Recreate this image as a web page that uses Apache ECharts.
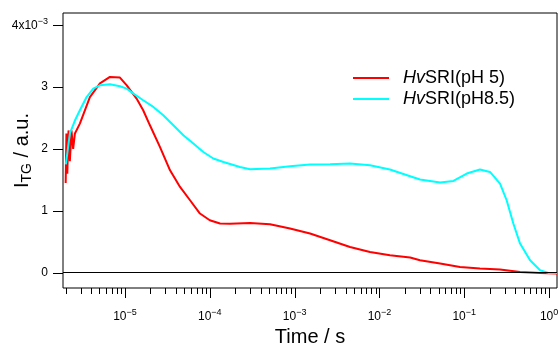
<!DOCTYPE html>
<html><head><meta charset="utf-8">
<script src="https://cdn.jsdelivr.net/npm/echarts@6/dist/echarts.min.js"></script>
<style>html,body{margin:0;padding:0;background:#fff}#c{width:558px;height:347px}</style>
</head><body><div id="c"></div>
<script>
// ---- data (time in s, signal in units of 1e-3 a.u.) ----
const redTime = [2.0e-6, 2.04e-6, 2.09e-6, 2.16e-6, 2.24e-6, 2.34e-6, 2.45e-6, 2.57e-6, 2.94e-6, 3.86e-6, 5.07e-6, 6.65e-6, 8.73e-6, 1.05e-5, 1.37e-5, 1.64e-5, 1.97e-5, 2.59e-5, 3.40e-5, 4.46e-5, 5.85e-5, 7.66e-5, 1.0e-4, 1.32e-4, 1.73e-4, 2.98e-4, 5.13e-4, 8.83e-4, 1.52e-3, 2.62e-3, 4.50e-3, 7.74e-3, 1.33e-2, 2.30e-2, 3.01e-2, 5.19e-2, 8.91e-2, 0.153, 0.264, 0.455, 0.783, 1.24];
const redValue = [1.45, 2.25, 1.6, 2.3, 1.8, 2.3, 2.0, 2.25, 2.41, 2.84, 3.06, 3.165, 3.155, 3.03, 2.815, 2.626, 2.383, 2.03, 1.655, 1.385, 1.17, 0.955, 0.846, 0.793, 0.79, 0.80, 0.782, 0.712, 0.631, 0.523, 0.414, 0.333, 0.280, 0.243, 0.199, 0.146, 0.091, 0.065, 0.049, 0.010, -0.006, -0.016];
const cyanTime = [2.01e-6, 2.24e-6, 2.57e-6, 2.94e-6, 3.53e-6, 4.23e-6, 5.07e-6, 6.65e-6, 8.73e-6, 1.05e-5, 1.26e-5, 1.64e-5, 2.16e-5, 2.83e-5, 3.72e-5, 4.88e-5, 6.40e-5, 8.39e-5, 1.10e-4, 1.45e-4, 2.27e-4, 2.98e-4, 5.13e-4, 8.83e-4, 1.52e-3, 2.62e-3, 4.50e-3, 7.74e-3, 1.33e-2, 2.30e-2, 3.01e-2, 5.19e-2, 7.45e-2, 0.107, 0.153, 0.201, 0.264, 0.316, 0.379, 0.455, 0.597, 0.783, 0.98, 1.24];
const cyanValue = [1.75, 2.25, 2.46, 2.626, 2.84, 2.977, 3.03, 3.047, 3.015, 2.977, 2.896, 2.788, 2.68, 2.545, 2.383, 2.222, 2.087, 1.951, 1.845, 1.79, 1.709, 1.672, 1.683, 1.72, 1.748, 1.752, 1.764, 1.736, 1.667, 1.558, 1.505, 1.456, 1.482, 1.602, 1.667, 1.628, 1.44, 1.17, 0.793, 0.469, 0.199, 0.037, -0.006, -0.006];
const seriesNames = ['HvSRI(pH 5)', 'HvSRI(pH8.5)'];
const xMajorTicks = [1e-5, 1e-4, 1e-3, 1e-2, 1e-1, 1];
const yTicks = [0, 1, 2, 3, 4];
const xTitle = 'Time / s';

// ---- layout ----
const X_MIN = 1.86e-6, X_MAX = 1.24, Y_MIN = -0.25, Y_MAX = 4.2;
const FONT = '"Liberation Sans", Arial, sans-serif';

const xMinorTicks = [];
for (let n = -6; n <= 0; n++) for (let k = 2; k <= 9; k++) {
  const t = k * Math.pow(10, n);
  if (t >= X_MIN && t <= X_MAX) xMinorTicks.push(t);
}
const xTickData = xMajorTicks.map(t => [t, 1]).concat(xMinorTicks.map(t => [t, 0]));
const yTickData = yTicks.map(v => [X_MIN, v]);

const chart = echarts.init(document.getElementById('c'), null, {renderer: 'canvas'});
const supRich = {
  b: {fontSize: 12, lineHeight: 14, fontFamily: FONT, color: '#000'},
  s: {fontSize: 9, lineHeight: 14, padding: [0, 0, 8, 0], fontFamily: FONT, color: '#000'}
};
chart.setOption({
  animation: false,
  backgroundColor: '#fff',
  grid: {left: 63, right: 1, top: 13, bottom: 59, show: true, borderColor: '#000', borderWidth: 1,
    backgroundColor: 'transparent', containLabel: false, outerBoundsMode: 'none'},
  legend: {
    left: 353, top: 69, padding: 0, orient: 'vertical', itemGap: 3, itemWidth: 36, itemHeight: 2, icon: 'rect',
    data: seriesNames,
    formatter: n => '{i|' + n.slice(0, 2) + '}{n|' + n.slice(2) + '}',
    textStyle: {padding: [0, 0, 0, 9], rich: {
      i: {fontSize: 18, fontStyle: 'italic', fontFamily: FONT, color: '#000'},
      n: {fontSize: 18, fontFamily: FONT, color: '#000'}
    }}
  },
  xAxis: {
    type: 'log', logBase: 10, min: X_MIN, max: X_MAX,
    axisLine: {show: false}, axisTick: {show: false}, splitLine: {show: false},
    axisLabel: {
      margin: 22, showMinLabel: false, showMaxLabel: false,
      formatter: v => {
        const e = Math.log10(v);
        if (Math.abs(e - Math.round(e)) > 1e-6) return '';
        const r = Math.round(e);
        return '{b|10}{s|' + (r < 0 ? '\u2212' : '') + Math.abs(r) + '}';
      },
      rich: supRich
    },
    name: xTitle, nameLocation: 'middle', nameGap: 39, nameMoveOverlap: false,
    nameTextStyle: {fontSize: 20, fontFamily: FONT, color: '#000'}
  },
  yAxis: {
    type: 'value', min: Y_MIN, max: Y_MAX, interval: 0.25,
    axisLine: {show: false}, axisTick: {show: false}, splitLine: {show: false},
    axisLabel: {
      margin: 15, showMinLabel: false, showMaxLabel: false,
      formatter: v => {
        if (Math.abs(v - 4) < 1e-9) return '{b|4x10}{s|\u22123}';
        if (Math.abs(v - Math.round(v)) < 1e-9) return '{b|' + Math.round(v) + '}';
        return '';
      },
      rich: supRich
    },
    name: '{a|I}{u|TG}{a| / a.u.}', nameLocation: 'middle', nameGap: 30, nameMoveOverlap: false,
    nameTextStyle: {rich: {
      a: {fontSize: 20, lineHeight: 22, fontFamily: FONT, color: '#000'},
      u: {fontSize: 14, lineHeight: 22, padding: [10, 0, 0, 0], fontFamily: FONT, color: '#000'}
    }}
  },
  series: [
    {
      name: seriesNames[0], type: 'line', showSymbol: false, symbol: 'none',
      data: redTime.map((t, i) => [t, redValue[i]]),
      lineStyle: {color: '#ff0000', width: 2}, itemStyle: {color: '#ff0000'},
      markLine: {silent: true, symbol: ['none', 'none'], label: {show: false},
        lineStyle: {color: '#000', width: 1, type: 'solid'}, data: [{yAxis: 0}]}
    },
    {
      name: seriesNames[1], type: 'line', showSymbol: false, symbol: 'none',
      data: cyanTime.map((t, i) => [t, cyanValue[i]]),
      lineStyle: {color: '#00ffff', width: 2}, itemStyle: {color: '#00ffff'}
    },
    {
      type: 'custom', clip: false, silent: true, data: xTickData,
      renderItem: (params, api) => {
        const p = api.coord([api.value(0), Y_MIN]);
        const x = Math.round(p[0]) + 0.5;
        const len = api.value(1) ? 10 : 6;
        return {type: 'line', shape: {x1: x, y1: p[1], x2: x, y2: p[1] + len}, style: {stroke: '#000', lineWidth: 1}};
      }
    },
    {
      type: 'custom', clip: false, silent: true, data: yTickData,
      renderItem: (params, api) => {
        const p = api.coord([api.value(0), api.value(1)]);
        const y = Math.round(p[1]) + 0.5;
        return {type: 'line', shape: {x1: p[0] - 10, y1: y, x2: p[0], y2: y}, style: {stroke: '#000', lineWidth: 1}};
      }
    }
  ]
});
</script></body></html>
